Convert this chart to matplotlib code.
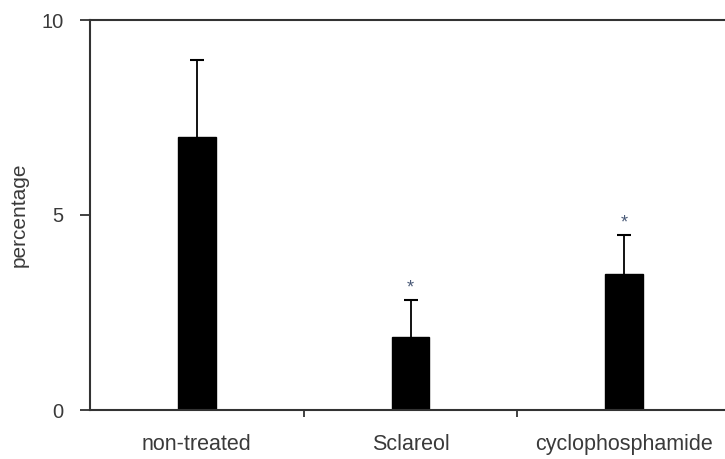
import matplotlib
matplotlib.use('Agg')
import matplotlib.pyplot as plt
import numpy as np

plt.rcParams['font.family'] = ['Liberation Sans', 'DejaVu Sans']

groups = ['non-treated', 'Sclareol', 'cyclophosphamide']
means = [7.0, 1.87, 3.5]
errs = [1.97, 0.95, 1.0]
signif = ['', '*', '*']

txt = '#3a3a3a'

fig = plt.figure(figsize=(7.25, 4.59), dpi=100)
ax = fig.add_axes([90/725, 49/459, 641/725, 390/459])

x = np.arange(len(groups))
ax.bar(x, means, width=0.175, color='black', edgecolor='black', zorder=2)
eb = ax.errorbar(x, means, yerr=[np.zeros(len(errs)), errs], fmt='none',
                 ecolor='black', elinewidth=1.3, capsize=5, capthick=1.5, zorder=1)
# only the upper cap is wanted
eb[1][0].set_visible(False)

for xi, m, e, s in zip(x, means, errs, signif):
    if s:
        ax.text(xi, m + e + 0.08, s, ha='center', va='bottom', fontsize=13, color='#4a5a78')

ax.set_xlim(-0.5, 2.5)
ax.set_ylim(0, 10)
ax.set_yticks([0, 5, 10])
ax.set_xticks(x)
ax.set_xticklabels(groups)
ax.set_xticks([0.5, 1.5], minor=True)
ax.tick_params(axis='x', which='major', length=0, pad=17, labelsize=15.5, labelcolor=txt)
ax.tick_params(axis='x', which='minor', length=5, width=1.3, direction='out', color='#333333')
ax.tick_params(axis='y', length=7, width=1.3, direction='out', pad=12, labelsize=14.5,
               labelcolor=txt, color='#333333')

for side in ['left', 'bottom', 'top']:
    ax.spines[side].set_linewidth(1.5)
    ax.spines[side].set_color('#333333')
ax.spines['right'].set_visible(False)

ax.set_ylabel('percentage', fontsize=15, color=txt)
ax.yaxis.set_label_coords(-0.095, 0.5)

fig.savefig('out.png', dpi=100)
